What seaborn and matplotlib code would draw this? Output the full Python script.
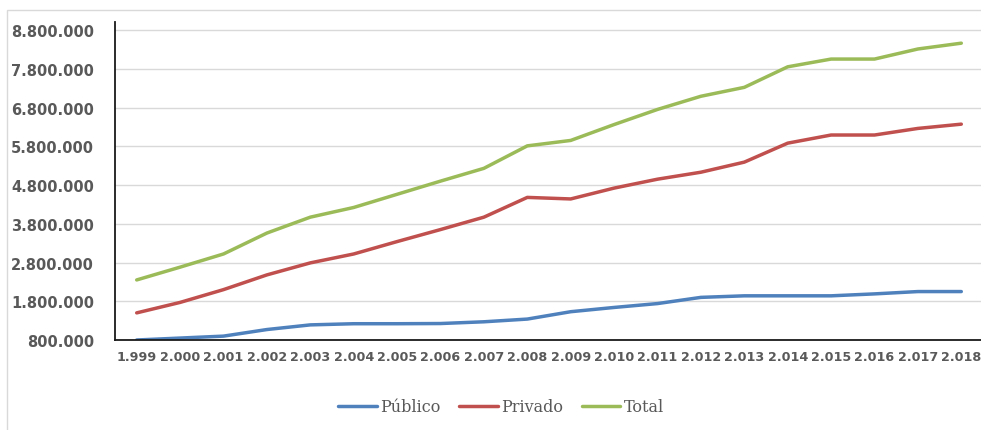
import matplotlib
matplotlib.use("Agg")
import matplotlib.pyplot as plt
from matplotlib.patches import Rectangle
from matplotlib.ticker import FuncFormatter
import pandas as pd
import seaborn as sns

years = [1999, 2000, 2001, 2002, 2003, 2004, 2005, 2006, 2007, 2008,
         2009, 2010, 2011, 2012, 2013, 2014, 2015, 2016, 2017, 2018]
publico = [800000, 850000, 900000, 1070000, 1190000, 1220000, 1220000, 1225000, 1270000, 1340000,
           1530000, 1640000, 1740000, 1900000, 1940000, 1940000, 1940000, 1990000, 2050000, 2050000]
privado = [1500000, 1770000, 2100000, 2480000, 2790000, 3020000, 3340000, 3650000, 3970000, 4480000,
           4440000, 4720000, 4950000, 5130000, 5390000, 5880000, 6090000, 6090000, 6260000, 6370000]
total = [2350000, 2680000, 3020000, 3560000, 3970000, 4220000, 4560000, 4900000, 5230000, 5810000,
         5950000, 6360000, 6750000, 7090000, 7320000, 7850000, 8050000, 8050000, 8310000, 8460000]
series_names = ["Público", "Privado", "Total"]
series_colors = ["#4F81BD", "#C0504D", "#9BBB59"]

df = pd.DataFrame({
    "Año": years * 3,
    "Valor": publico + privado + total,
    "Serie": [series_names[0]] * len(years) + [series_names[1]] * len(years) + [series_names[2]] * len(years),
})

sns.set_style("white")
fig = plt.figure(figsize=(9.81, 4.31), dpi=100)

# light chart-area frame
fig.patches.append(Rectangle((7 / 981, -0.1), 1.2, (431 - 11) / 431 + 0.1,
                             transform=fig.transFigure, fill=False,
                             edgecolor="#D9D9D9", linewidth=1.0))

ax = fig.add_axes([115 / 981, (431 - 341) / 431, (983 - 115) / 981, (341 - 23.25) / 431])
sns.lineplot(data=df, x="Año", y="Valor", hue="Serie", palette=series_colors,
             linewidth=2.5, ax=ax, legend=True)

ax.set_xlim(years[0] - 0.5, years[-1] + 0.5)
ax.set_ylim(800000, 9000000)
yticks = list(range(800000, 8800001, 1000000))
ax.set_yticks(yticks)
ax.set_xticks(years)
ax.set_xticklabels([f"{y:,}".replace(",", ".") for y in years])
ax.yaxis.set_major_formatter(FuncFormatter(lambda v, p: f"{int(v):,}".replace(",", ".")))

for t in ax.get_yticklabels():
    t.set_fontweight("bold")
    t.set_fontsize(10.5)
    t.set_color("#595959")
for t in ax.get_xticklabels():
    t.set_fontweight("bold")
    t.set_fontsize(9.2)
    t.set_color("#595959")
ax.tick_params(axis="y", length=0, pad=15)
ax.tick_params(axis="x", length=0, pad=7)

ax.grid(axis="y", color="#D9D9D9", linewidth=1.0)
ax.set_axisbelow(True)
ax.set_xlabel("")
ax.set_ylabel("")
for side in ["top", "right"]:
    ax.spines[side].set_visible(False)
for side in ["left", "bottom"]:
    ax.spines[side].set_color("#1a1a1a")
    ax.spines[side].set_linewidth(1.3)

handles, labels = ax.get_legend_handles_labels()
ax.legend_.remove()
leg = fig.legend(handles, labels, loc="center", bbox_to_anchor=(501 / 981, 1 - 408 / 431),
                 ncol=3, frameon=False, handlelength=2.4, handletextpad=0.2,
                 columnspacing=1.2, prop={"family": "DejaVu Serif", "size": 11.5})
for t in leg.get_texts():
    t.set_color("#595959")
for h in leg.get_lines():
    h.set_linewidth(2.5)

fig.savefig("out.png", dpi=100)
